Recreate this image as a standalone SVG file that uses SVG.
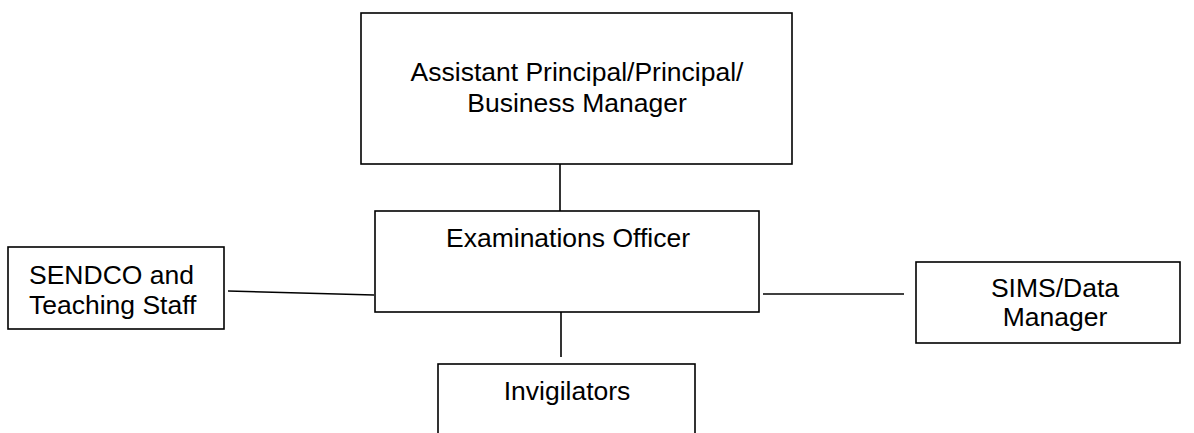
<svg xmlns="http://www.w3.org/2000/svg" width="1194" height="433" viewBox="0 0 1194 433">
<style>
.box{fill:#fff;stroke:#000;stroke-width:1.6}
.conn{stroke:#000;stroke-width:1.6;fill:none}
text{font-family:"Liberation Sans",Arial,sans-serif;font-size:26.5px;fill:#000}
.c{text-anchor:middle}
</style>
<rect width="1194" height="433" fill="#fff"/>
<g id="connectors">
<line class="conn" x1="560" y1="164" x2="560" y2="211"/>
<line class="conn" x1="561" y1="312" x2="561" y2="357"/>
<line class="conn" x1="228" y1="291" x2="374" y2="295"/>
<line class="conn" x1="763" y1="294" x2="904" y2="294"/>
</g>
<g id="node-principal">
<rect class="box" x="361" y="13" width="431" height="151"/>
<text class="c" x="577" y="81">Assistant Principal/Principal/</text>
<text class="c" x="577" y="112">Business Manager</text>
</g>
<g id="node-exams">
<rect class="box" x="375" y="211" width="384" height="101"/>
<text class="c" x="568" y="247">Examinations Officer</text>
</g>
<g id="node-sendco">
<rect class="box" x="8" y="247" width="216" height="82"/>
<text x="29" y="284">SENDCO and</text>
<text x="29" y="314">Teaching Staff</text>
</g>
<g id="node-sims">
<rect class="box" x="916" y="262" width="264" height="81"/>
<text class="c" x="1055" y="297">SIMS/Data</text>
<text class="c" x="1055" y="326">Manager</text>
</g>
<g id="node-invigilators">
<rect class="box" x="438" y="364" width="257" height="90"/>
<text class="c" x="567" y="400">Invigilators</text>
</g>
</svg>
